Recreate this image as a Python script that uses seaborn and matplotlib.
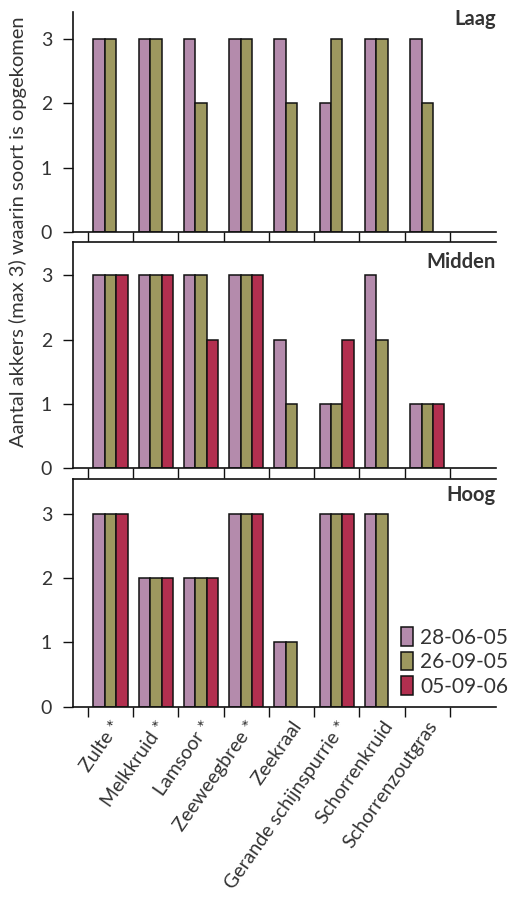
import pandas as pd
import matplotlib
matplotlib.use("Agg")
import matplotlib.pyplot as plt
from matplotlib.patches import Patch
import seaborn as sns

# species (x categories) and sampling dates (hue)
soorten = ['Zulte *', 'Melkkruid *', 'Lamsoor *', 'Zeeweegbree *', 'Zeekraal',
           'Gerande schijnspurrie *', 'Schorrenkruid', 'Schorrenzoutgras']
datums = ['28-06-05', '26-09-05', '05-09-06']
kleuren = ['#B48BAC', '#9D985F', '#B22F4F']

# number of fields (max 3) per date, per zone
laag_280605 = [3, 3, 3, 3, 3, 2, 3, 3]
laag_260905 = [3, 3, 2, 3, 2, 3, 3, 2]
laag_050906 = [0, 0, 0, 0, 0, 0, 0, 0]

midden_280605 = [3, 3, 3, 3, 2, 1, 3, 1]
midden_260905 = [3, 3, 3, 3, 1, 1, 2, 1]
midden_050906 = [3, 3, 2, 3, 0, 2, 0, 1]

hoog_280605 = [3, 2, 2, 3, 1, 3, 3, 0]
hoog_260905 = [3, 2, 2, 3, 1, 3, 3, 0]
hoog_050906 = [3, 2, 2, 3, 0, 3, 0, 0]

zones = {
    'Laag': [laag_280605, laag_260905, laag_050906],
    'Midden': [midden_280605, midden_260905, midden_050906],
    'Hoog': [hoog_280605, hoog_260905, hoog_050906],
}

# build long dataframe
rows = []
for zone, reeksen in zones.items():
    for datum, waarden in zip(datums, reeksen):
        for soort, w in zip(soorten, waarden):
            rows.append({'zone': zone, 'soort': soort, 'datum': datum, 'aantal': w})
df = pd.DataFrame(rows)

sns.set_style('white')
plt.rcParams['font.family'] = ['Lato', 'DejaVu Sans']
tekst = '#333333'
lijn = '#111111'

fig = plt.figure(figsize=(5.21, 8.97), dpi=100)
W, H = 521, 897

# axes placement (pixels): bottom, top, ymax, label baseline (axes fraction)
panels = [('Laag', 232, 12, 3.42, 0.941),
          ('Midden', 468.3, 242, 3.52, 0.884),
          ('Hoog', 706.7, 479.3, 3.54, 0.903)]

for zone, ybot, ytop, ymax, ylab in panels:
    ax = fig.add_axes([73 / W, 1 - ybot / H, (496 - 73) / W, (ybot - ytop) / H])
    sub = df[df['zone'] == zone]
    sns.barplot(data=sub, x='soort', y='aantal', hue='datum', hue_order=datums,
                order=soorten, palette=kleuren, saturation=1, width=0.76,
                edgecolor=lijn, linewidth=1.1, ax=ax, legend=False)
    # remove empty (zero) bars
    for p in list(ax.patches):
        if p.get_height() == 0:
            p.remove()

    ax.set_xlim(-0.83, 8.52)
    ax.set_ylim(0, ymax)
    ax.set_yticks([0, 1, 2, 3])
    ax.set_yticklabels(['0', '1', '2', '3'])
    ax.set_xticks([x - 0.5 for x in range(9)])
    ax.set_xticklabels([])
    ax.set_xlabel('')
    ax.set_ylabel('')
    for s in ['left', 'bottom', 'top']:
        ax.spines[s].set_color(lijn)
        ax.spines[s].set_linewidth(1.2)
    ax.spines['right'].set_visible(False)
    ax.spines['top'].set_visible(zone != 'Laag')
    ax.tick_params(axis='both', direction='out', length=7, width=1.0, color=lijn,
                   labelsize=14, labelcolor=tekst, bottom=True, left=True)
    ax.tick_params(axis='y', pad=8)
    ax.text(1.0, ylab, zone, transform=ax.transAxes, ha='right', va='baseline',
            fontsize=14.5, fontweight='bold', color=tekst)

    if zone == 'Hoog':
        ax.set_xticks(range(len(soorten)), minor=True)
        ax.set_xticklabels(soorten, minor=True, rotation=55, ha='right',
                           rotation_mode='anchor', fontsize=14, color=tekst)
        ax.tick_params(axis='x', which='minor', length=0, pad=8)
        handles = [Patch(facecolor=k, edgecolor=lijn, linewidth=1.1) for k in kleuren]
        ax.legend(handles, datums, loc='center left', bbox_to_anchor=(0.776, 0.197),
                  frameon=False, fontsize=15, handlelength=0.55, handleheight=1.0,
                  handletextpad=0.35, labelspacing=0.19, borderpad=0,
                  borderaxespad=0, labelcolor=tekst)

fig.text(18 / W, 1 - 232 / H, 'Aantal akkers (max 3) waarin soort is opgekomen',
         rotation=90, ha='center', va='center', fontsize=14.5, color=tekst)

fig.savefig('out.png', dpi=100)
